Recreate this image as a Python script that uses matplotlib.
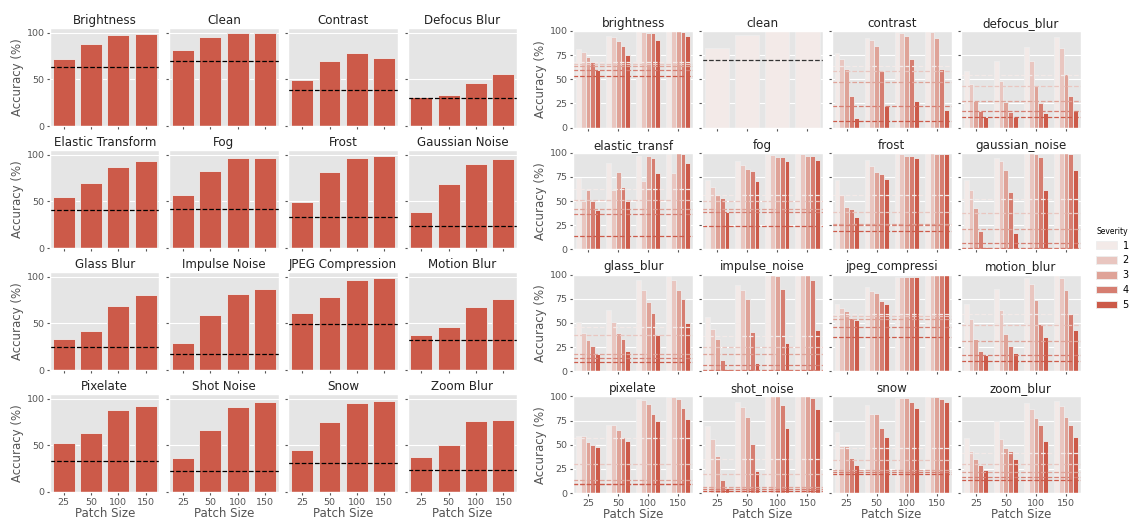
import numpy as np
import matplotlib
matplotlib.use('Agg')
import matplotlib.pyplot as plt
from matplotlib.patches import Patch

plt.style.use('ggplot')

patch_sizes = ['25', '50', '100', '150']
severities = ['1', '2', '3', '4', '5']

# left block: mean accuracy over severities
left_titles = ['Brightness', 'Clean', 'Contrast', 'Defocus Blur',
               'Elastic Transform', 'Fog', 'Frost', 'Gaussian Noise',
               'Glass Blur', 'Impulse Noise', 'JPEG Compression', 'Motion Blur',
               'Pixelate', 'Shot Noise', 'Snow', 'Zoom Blur']
left_acc = [[72, 88, 98, 99], [82, 96, 100, 100], [49, 69.5, 78, 73.5], [31, 33, 46.5, 55.5],
            [55, 69.5, 87, 93], [57, 83, 96, 97], [49, 81, 97, 98.5], [39, 69, 90, 95],
            [33, 41.5, 69, 80], [29, 59, 82, 87], [61, 78, 97, 99], [38, 46, 68, 76],
            [53, 63, 88, 92], [36, 66, 91, 96.5], [45, 75, 95.5, 97.5], [37, 50.5, 76, 77.5]]
left_base = [63, 70, 39, 30, 41, 42, 33, 24, 24.5, 17, 49.5, 32.5, 33, 22, 31, 23.5]

# right block: one row per patch size, one column per severity
right_titles = ['brightness', 'clean', 'contrast', 'defocus_blur',
                'elastic_transf', 'fog', 'frost', 'gaussian_noise',
                'glass_blur', 'impulse_noise', 'jpeg_compressi', 'motion_blur',
                'pixelate', 'shot_noise', 'snow', 'zoom_blur']
brightness = [[81, 78, 73.5, 68, 60], [95, 93.5, 90, 84.5, 75], [99.5, 99, 98, 97.5, 91], [100, 100, 99.5, 99, 94.5]]
clean = [82, 96, 100, 100]
contrast = [[77, 71, 61, 32.5, 9.5], [93, 90.5, 84.5, 58.5, 22.5], [99, 98, 94.5, 71, 27.5], [100, 98.5, 93, 61, 18]]
defocus_blur = [[58.5, 45.5, 27.5, 17.5, 11], [69, 48, 27, 16, 11.5], [83, 69, 43, 25.5, 15], [93.5, 82, 55.5, 33, 17]]
elastic_transform = [[73.5, 50.5, 61.5, 50.5, 40.5], [89.5, 61.5, 80.5, 64.5, 50.5], [97, 71, 96.5, 94.5, 79.5], [99, 79.5, 100, 99, 89.5]]
fog = [[71.5, 65, 56, 53, 38.5], [92, 87.5, 83, 81.5, 71], [98.5, 97.5, 96, 95.5, 91], [100, 99, 97, 97, 93]]
frost = [[71.5, 56, 44, 42, 34], [92.5, 86.5, 80, 78.5, 73], [99.5, 98.5, 97, 97, 95], [100, 100, 99, 99, 98.5]]
gaussian_noise = [[71.5, 61, 42.5, 19, 2.5], [95, 91.5, 82, 59.5, 17.5], [100, 100, 99, 95.5, 61], [100, 100, 100, 99, 82.5]]
glass_blur = [[50.5, 40, 32, 26.5, 18], [63.5, 51, 39.5, 33, 21], [94, 84, 72, 60.5, 37.5], [98.5, 94.5, 84.5, 75, 49.5]]
impulse_noise = [[56, 44, 33.5, 12, 2.5], [89.5, 84, 74.5, 41, 8.5], [100, 99.5, 98.5, 85, 29], [100, 100, 100, 94, 43]]
jpeg_compression = [[70, 65.5, 62.5, 55, 53.5], [87.5, 83.5, 81, 72.5, 70], [98, 97.5, 97.5, 97.5, 97.5], [100, 99.5, 99.5, 99.5, 99.5]]
motion_blur = [[70, 54, 33, 21, 16.5], [85.5, 63.5, 39, 26.5, 19], [96, 90, 73.5, 49, 35], [100, 96, 84.5, 59.5, 43]]
pixelate = [[59.5, 59, 53, 49.5, 47.5], [70.5, 70.5, 65, 57.5, 54], [97, 96, 92.5, 82, 74.5], [99.5, 99, 97, 87.5, 76.5]]
shot_noise = [[69.5, 56, 38.5, 13.5, 5], [94, 89, 79, 50.5, 23], [100, 100, 100, 91, 67], [100, 100, 100, 98.5, 86.5]]
snow = [[63.5, 49, 49, 36, 29], [91, 81.5, 81.5, 67.5, 58], [98.5, 98.5, 98.5, 94, 87.5], [100, 99.5, 99.5, 97.5, 94.5]]
zoom_blur = [[56.5, 43.5, 35, 28.5, 24], [74.5, 56, 46.5, 43, 35], [93, 87, 78, 70, 54], [95.5, 90, 78.5, 70.5, 57.5]]

# baseline per severity (dashed lines)
right_base = [[68, 66, 63.5, 60, 53], [70], [63.5, 58.5, 47.5, 22.5, 6.5], [54, 43.5, 27.5, 17.5, 11.5],
              [62.5, 51.5, 41.5, 36.5, 13.5], [56.5, 50.5, 41.5, 38.5, 24], [56, 39, 26.5, 25.5, 19], [52, 38, 21, 7, 1.5],
              [46, 37, 17.5, 13.5, 9.5], [36.5, 25.5, 18, 6, 1.5], [59.5, 57.5, 54.5, 45.5, 35], [59.5, 47.5, 31, 16.5, 10.5],
              [56.5, 30.5, 13.5, 9.5, 9], [35, 19.5, 6, 4, 2.5], [47, 34, 23.5, 21.5, 19.5], [41, 30, 22, 16.5, 13]]

right_acc = [brightness, clean, contrast, defocus_blur, elastic_transform, fog, frost, gaussian_noise,
             glass_blur, impulse_noise, jpeg_compression, motion_blur, pixelate, shot_noise, snow, zoom_blur]

bar_color = '#CC5A49'
sev_colors = ['#F3EAE8', '#E9C6C0', '#DFA398', '#D67E71', '#CC5A49']

fig = plt.figure(figsize=(11.34, 5.21), dpi=100)
gl = fig.add_gridspec(4, 4, left=0.0441, right=0.456, top=0.946, bottom=0.0557, wspace=0.09, hspace=0.245)
gr = fig.add_gridspec(4, 4, left=0.5053, right=0.9533, top=0.9405, bottom=0.0537, wspace=0.075, hspace=0.26)

x = np.arange(len(patch_sizes))


def style_axis(ax, row, col, title, yticks):
    ax.set_xlim(-0.5, 3.5)
    ax.set_yticks(yticks)
    ax.set_xticks(x)
    ax.xaxis.grid(False)
    ax.set_title(title, fontsize=8.6, pad=3, color='#222222')
    ax.tick_params(labelsize=6.8, length=2.5, pad=1.5)
    if col == 0:
        ax.set_ylabel('Accuracy (%)', fontsize=8.5, color='#555555', labelpad=2)
    else:
        ax.tick_params(labelleft=False)
    if row == 3:
        ax.set_xticklabels(patch_sizes)
        ax.set_xlabel('Patch Size', fontsize=8.5, color='#555555', labelpad=0)
    else:
        ax.tick_params(labelbottom=False)


# left grid
for i in range(16):
    r, c = divmod(i, 4)
    ax = fig.add_subplot(gl[r, c])
    ax.bar(x, left_acc[i], width=0.8, color=bar_color, edgecolor='#EEEEEE', linewidth=0.6)
    ax.axhline(left_base[i], color='k', ls='--', lw=0.9)
    ax.set_ylim(0, 105)
    style_axis(ax, r, c, left_titles[i], [0, 50, 100])

# right grid
w = 0.16
for i in range(16):
    r, c = divmod(i, 4)
    ax = fig.add_subplot(gr[r, c])
    if right_titles[i] == 'clean':
        ax.bar(x, right_acc[i], width=0.8, color=sev_colors[0], edgecolor='#EEEEEE', linewidth=0.6)
        ax.axhline(right_base[i][0], color='#333333', ls='--', lw=0.9)
    else:
        vals = np.array(right_acc[i]).T
        for s in range(5):
            ax.bar(x + (s - 2) * w, vals[s], width=w, color=sev_colors[s], edgecolor='#EEEEEE', linewidth=0.6)
        for s in range(5):
            ax.axhline(right_base[i][s], color=sev_colors[s], ls='--', lw=0.9)
    ax.set_ylim(0, 100)
    style_axis(ax, r, c, right_titles[i], [0, 25, 50, 75, 100])

handles = [Patch(facecolor=sev_colors[s], edgecolor='#EEEEEE', linewidth=0.6) for s in range(5)]
leg = fig.legend(handles, severities, title='Severity', loc='center left', bbox_to_anchor=(0.959, 0.485),
                 frameon=False, fontsize=7, title_fontsize=5.5, handlelength=2.1, handleheight=0.8,
                 labelspacing=0.5, handletextpad=0.6)

fig.savefig('out.png', dpi=100)
